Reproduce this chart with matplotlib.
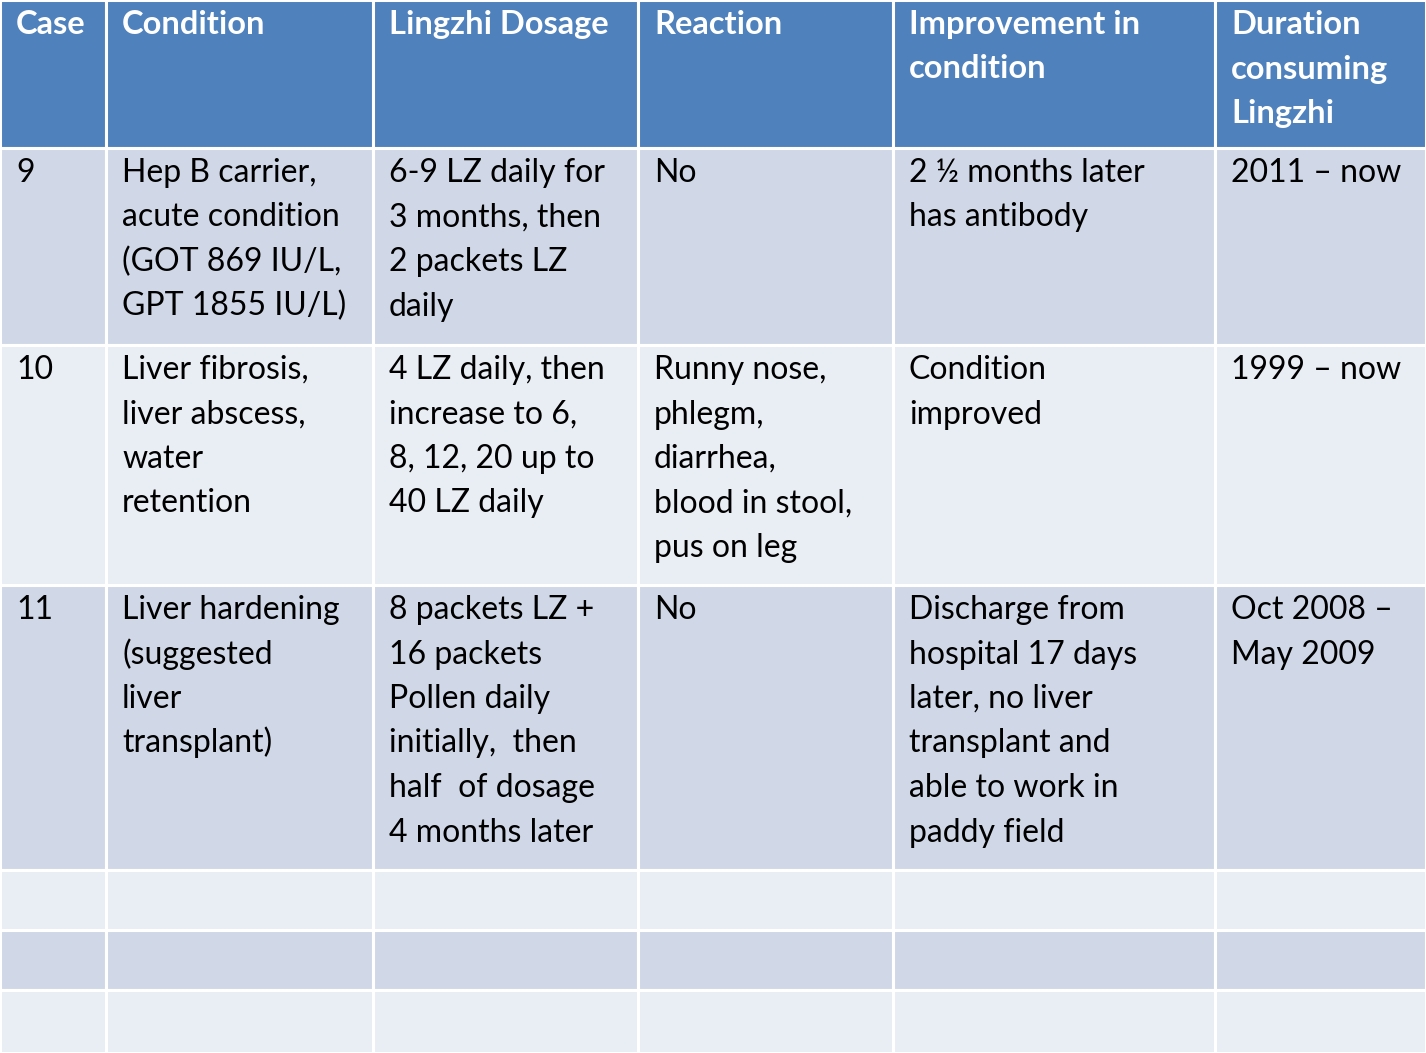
import matplotlib
matplotlib.use('Agg')
from matplotlib import pyplot as plt
from matplotlib.patches import Rectangle

headers = [
    ['Case'],
    ['Condition'],
    ['Lingzhi Dosage'],
    ['Reaction'],
    ['Improvement in', 'condition'],
    ['Duration', 'consuming', 'Lingzhi'],
]

rows = [
    [['9'],
     ['Hep B carrier,', 'acute condition', '(GOT 869 IU/L,', 'GPT 1855 IU/L)'],
     ['6-9 LZ daily for', '3 months, then', '2 packets LZ', 'daily'],
     ['No'],
     ['2 \u00bd months later', 'has antibody'],
     ['2011 \u2013 now']],
    [['10'],
     ['Liver fibrosis,', 'liver abscess,', 'water', 'retention'],
     ['4 LZ daily, then', 'increase to 6,', '8, 12, 20 up to', '40 LZ daily'],
     ['Runny nose,', 'phlegm,', 'diarrhea,', 'blood in stool,', 'pus on leg'],
     ['Condition', 'improved'],
     ['1999 \u2013 now']],
    [['11'],
     ['Liver hardening', '(suggested', 'liver', 'transplant)'],
     ['8 packets LZ +', '16 packets', 'Pollen daily', 'initially,  then', 'half  of dosage', '4 months later'],
     ['No'],
     ['Discharge from', 'hospital 17 days', 'later, no liver', 'transplant and', 'able to work in', 'paddy field'],
     ['Oct 2008 \u2013', 'May 2009']],
    [[''] for _ in range(6)],
    [[''] for _ in range(6)],
    [[''] for _ in range(6)],
]

col_edges = [0, 106, 373, 638, 893, 1215, 1426]
row_edges = [0, 148, 345, 585, 870, 930, 990, 1053]

W, H = 1426, 1053
fig = plt.figure(figsize=(W / 100, H / 100), dpi=100)
ax = fig.add_axes([0, 0, 1, 1])
ax.set_xlim(0, W)
ax.set_ylim(H, 0)
ax.axis('off')

header_color = '#4F81BD'
row_colors = ['#D0D8E8', '#E9EDF4']
font = 'Lato'
line_h = 44.5

all_rows = [headers] + rows
for r, cells in enumerate(all_rows):
    y0, y1 = row_edges[r], row_edges[r + 1]
    color = header_color if r == 0 else row_colors[(r - 1) % 2]
    for c, lines in enumerate(cells):
        x0, x1 = col_edges[c], col_edges[c + 1]
        ax.add_patch(Rectangle((x0, y0), x1 - x0, y1 - y0, facecolor=color,
                               edgecolor='white', linewidth=2.2))
        for k, line in enumerate(lines):
            ax.text(x0 + 16, y0 + 34 + k * line_h, line, fontsize=23 if r else 23.5,
                    family=font, va='baseline', ha='left',
                    color='white' if r == 0 else 'black',
                    fontweight='bold' if r == 0 else 'normal')

fig.savefig('out.png', dpi=100)
